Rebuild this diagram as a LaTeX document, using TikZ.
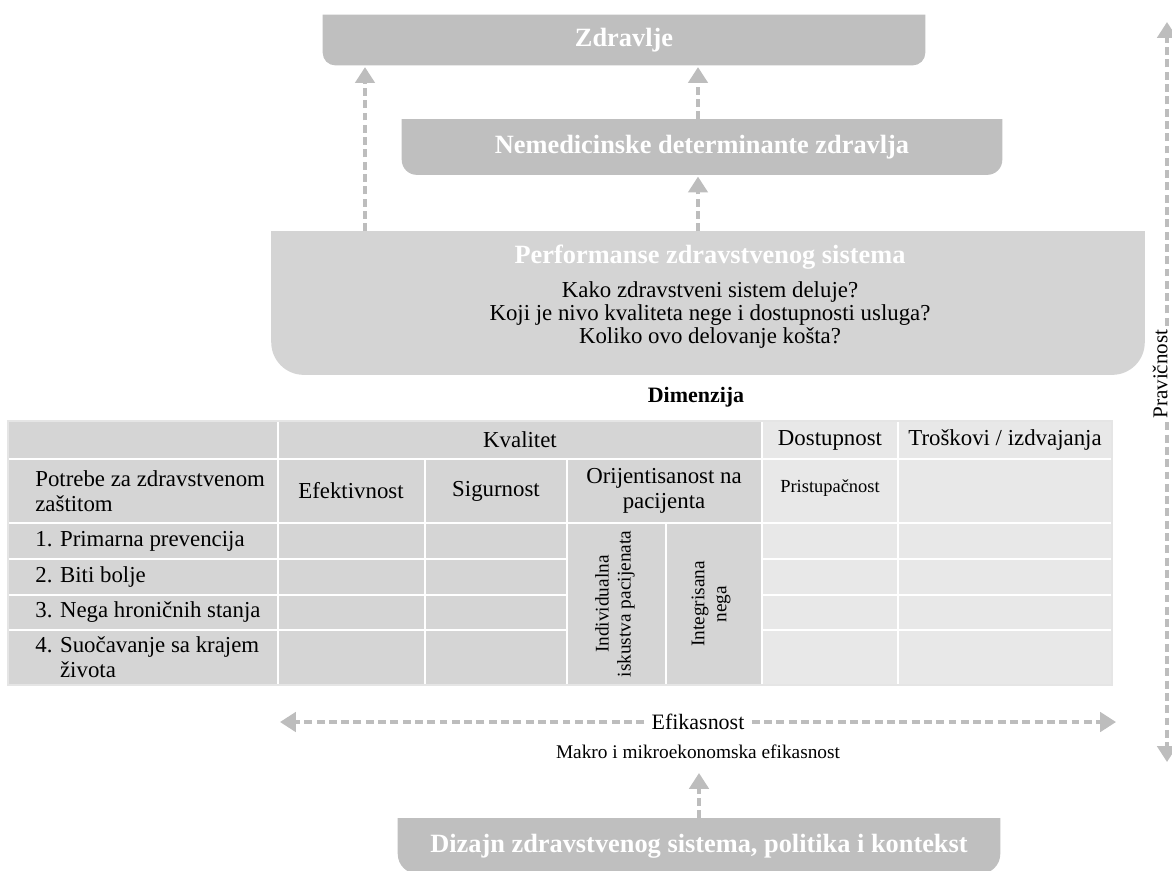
\documentclass[tikz,border=0pt]{standalone}
\usepackage{fontspec}
\setmainfont{Liberation Serif}
\usetikzlibrary{arrows.meta,backgrounds}

\definecolor{boxdark}{HTML}{BFBFBF}
\definecolor{boxlight}{HTML}{D4D4D4}
\definecolor{qualgray}{HTML}{D5D5D5}
\definecolor{restgray}{HTML}{E8E8E8}
\definecolor{arrowgray}{HTML}{BDBDBD}

\begin{document}
\begin{tikzpicture}[x=0.02cm, y=-0.02cm,
  box/.style={text=white, font=\fontsize{15}{18}\selectfont\bfseries, inner sep=0pt},
  dasharrow/.style={draw=arrowgray, line width=2pt, dash pattern=on 4.5pt off 2.5pt,
    -{Triangle[width=11pt,length=9pt]}},
  cell/.style={font=\fontsize{13}{14.5}\selectfont, inner sep=0pt, align=center},
  grid/.style={draw=white, line width=1.1pt}]
  \useasboundingbox (0,0) rectangle (1172,870);

  % boxes
  \node[box, minimum width=12.04cm, minimum height=1cm] (zdr) at (624,40) {Zdravlje};
  \node[box, minimum width=12cm, minimum height=1.1cm] (nemed) at (702,147) {Nemedicinske determinante zdravlja};
  \node[box, minimum width=17.46cm, minimum height=2.86cm] (perf) at (708,303) {};
  \node[box] (perft) at (710,257) {Performanse zdravstvenog sistema};
  \node[align=center, font=\fontsize{13}{13.1}\selectfont] (perfq) at (710,315)
    {Kako zdravstveni sistem deluje?\\Koji je nivo kvaliteta nege i dostupnosti usluga?\\Koliko ovo delovanje košta?};
  \node[box, minimum width=12.04cm, minimum height=1.1cm] (diz) at (699,846) {Dizajn zdravstvenog sistema, politika i kontekst};
  \begin{scope}[on background layer]
    \fill[boxdark] (zdr.north west) -- (zdr.north east) [rounded corners=0.25cm] -- (zdr.south east) -- (zdr.south west) [sharp corners] -- cycle;
    \fill[boxdark] (nemed.north west) -- (nemed.north east) [rounded corners=0.3cm] -- (nemed.south east) -- (nemed.south west) [sharp corners] -- cycle;
    \fill[boxlight] (perf.north west) -- (perf.north east) [rounded corners=0.65cm] -- (perf.south east) -- (perf.south west) [sharp corners] -- cycle;
    \fill[boxdark] (diz.north west) -- (diz.north east) [rounded corners=0.4cm] -- (diz.south east) -- (diz.south west) [sharp corners] -- cycle;
  \end{scope}

  % arrows between boxes
  \coordinate (lf) at (365,0);
  \coordinate (md) at (698,0);
  \draw[dasharrow, shorten >=1pt] (perf.north -| lf) -- (zdr.south -| lf);
  \draw[dasharrow, shorten >=1pt] (perf.north -| md) -- (nemed.south -| md);
  \draw[dasharrow, shorten >=1pt] (nemed.north -| md) -- (zdr.south -| md);

  % table
  \node[font=\fontsize{12.5}{14}\selectfont\bfseries] (dim) at (696,397) {Dimenzija};
  \fill[qualgray] (8,421) rectangle (762,685);
  \fill[restgray] (762,421) rectangle (1112,685);
  \foreach \y in {459,523} \draw[grid] (8,\y) -- (1112,\y);
  \foreach \y in {559,595,630} {
    \draw[grid] (8,\y) -- (567,\y);
    \draw[grid] (762,\y) -- (1112,\y);
  }
  \foreach \x in {278,762,898} \draw[grid] (\x,421) -- (\x,685);
  \foreach \x in {425,567} \draw[grid] (\x,459) -- (\x,685);
  \draw[grid] (666,523) -- (666,685);
  \draw[gray!20, line width=1.2pt] (8,421) rectangle (1112,685);

  \node[cell] (kval) at (520,440) {Kvalitet};
  \node[cell] (dost) at (830,440) {Dostupnost};
  \node[cell] (tros) at (1005,440) {Troškovi / izdvajanja};
  \node[cell, anchor=west, align=left] (potr) at (35,491) {Potrebe za zdravstvenom\\zaštitom};
  \node[cell] (efek) at (351,491) {Efektivnost};
  \node[cell] (sigu) at (496,491) {Sigurnost};
  \node[cell] (orij) at (664,491) {Orijentisanost na\\pacijenta};
  \node[cell, font=\fontsize{10.5}{12}\selectfont] (prist) at (830,488) {Pristupačnost};
  \node[cell, anchor=west] (n1) at (35,541) {1. Primarna prevencija};
  \node[cell, anchor=west] (n2) at (35,577) {2. Biti bolje};
  \node[cell, anchor=west] (n3) at (35,612) {3. Nega hroničnih stanja};
  \node[cell, anchor=west, align=left] (n4) at (35,657) {4. Suočavanje sa krajem\\\hphantom{4. }života};
  \node[cell, rotate=90, font=\fontsize{11}{12.5}\selectfont] (indiv) at (615,604) {Individualna\\iskustva pacijenata};
  \node[cell, rotate=90, font=\fontsize{11}{12.5}\selectfont] (integ) at (711,604) {Integrisana\\nega};

  % efficiency and equity
  \node[fill=white, font=\fontsize{12.5}{14}\selectfont, inner xsep=4pt, inner ysep=1pt] (efik) at (698,722) {Efikasnost};
  \coordinate (efL) at (280,722);
  \coordinate (efR) at (1116,722);
  \draw[dasharrow] (efik.west) -- (efL);
  \draw[dasharrow] (efik.east) -- (efR);
  \node[font=\fontsize{11}{13}\selectfont] (makro) at (698,752) {Makro i mikroekonomska efikasnost};
  \coordinate (mkT) at (699,773);
  \draw[dasharrow] (diz.north) -- (mkT);

  \node[fill=white, rotate=90, font=\fontsize{12}{14}\selectfont, inner sep=2pt] (prav) at (1160,374) {Pravičnost};
  \coordinate (pravT) at (1167,22);
  \coordinate (pravB) at (1167,762);
  \draw[dasharrow] (prav.east -| pravT) -- (pravT);
  \draw[dasharrow] (prav.west -| pravB) -- (pravB);
\end{tikzpicture}
\end{document}
